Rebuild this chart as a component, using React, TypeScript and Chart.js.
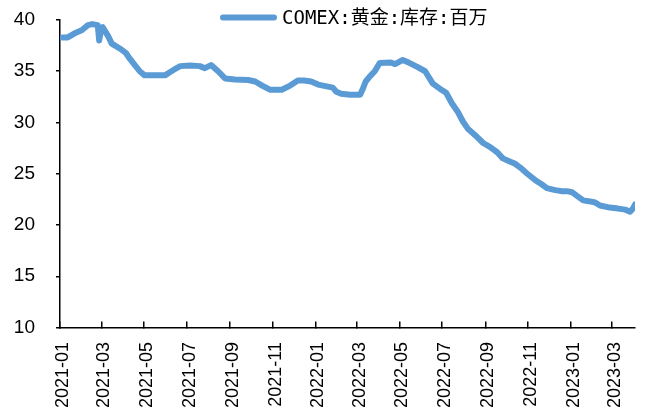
import React, { useEffect, useRef } from 'react';
import { Chart, registerables } from 'chart.js';

Chart.register(...registerables);

const seriesName = 'COMEX:黄金:库存:百万';

const dates = [
  '2021-01-04', '2021-01-12', '2021-01-22', '2021-02-01', '2021-02-10', '2021-02-16', '2021-02-24', '2021-02-26',
  '2021-03-01', '2021-03-03', '2021-03-11', '2021-03-16', '2021-03-28', '2021-04-05', '2021-04-11', '2021-04-18',
  '2021-04-25', '2021-05-02', '2021-05-17', '2021-05-31', '2021-06-07', '2021-06-14', '2021-06-22', '2021-07-06',
  '2021-07-20', '2021-07-27', '2021-08-05', '2021-08-15', '2021-08-25', '2021-09-08', '2021-09-27', '2021-10-07',
  '2021-10-17', '2021-10-28', '2021-11-14', '2021-11-26', '2021-12-07', '2021-12-16', '2021-12-26', '2022-01-05',
  '2022-01-19', '2022-01-26', '2022-01-31', '2022-02-07', '2022-02-20', '2022-03-06', '2022-03-10', '2022-03-14',
  '2022-03-20', '2022-03-27', '2022-04-03', '2022-04-19', '2022-04-25', '2022-05-06', '2022-05-16', '2022-05-26',
  '2022-06-07', '2022-06-18', '2022-06-28', '2022-07-07', '2022-07-15', '2022-07-24', '2022-07-31', '2022-08-07',
  '2022-08-20', '2022-08-29', '2022-09-08', '2022-09-18', '2022-09-26', '2022-10-06', '2022-10-13', '2022-10-21',
  '2022-10-31', '2022-11-11', '2022-11-20', '2022-11-28', '2022-12-10', '2022-12-20', '2022-12-27', '2023-01-03',
  '2023-01-11', '2023-01-19', '2023-01-29', '2023-02-05', '2023-02-12', '2023-02-26', '2023-03-10', '2023-03-20',
  '2023-03-27', '2023-03-31', '2023-04-03',
];

const inventory = [
  38.3, 38.3, 38.7, 39.0, 39.5, 39.6, 39.5, 38.0,
  39.2, 39.3, 38.4, 37.7, 37.2, 36.8, 36.2, 35.6,
  35.0, 34.6, 34.6, 34.6, 34.9, 35.2, 35.5, 35.55,
  35.5, 35.3, 35.6, 35.0, 34.3, 34.2, 34.15, 34.0,
  33.6, 33.2, 33.2, 33.6, 34.1, 34.1, 34.0, 33.7,
  33.5, 33.4, 33.0, 32.8, 32.7, 32.7, 33.3, 34.0,
  34.5, 35.0, 35.8, 35.85, 35.7, 36.1, 35.8, 35.45,
  35.0, 33.8, 33.3, 32.9, 31.9, 31.0, 30.1, 29.4,
  28.6, 28.0, 27.6, 27.1, 26.5, 26.2, 26.0, 25.6,
  25.0, 24.4, 24.0, 23.6, 23.4, 23.3, 23.3, 23.2,
  22.8, 22.4, 22.3, 22.2, 21.9, 21.7, 21.6, 21.5,
  21.3, 21.6, 22.0,
];

const tickLabels = [
  '2021-01', '2021-03', '2021-05', '2021-07', '2021-09', '2021-11',
  '2022-01', '2022-03', '2022-05', '2022-07', '2022-09', '2022-11',
  '2023-01', '2023-03',
];

const yTicks = [10, 15, 20, 25, 30, 35, 40];
const axisStart = '2021-01-01';
const axisEnd = '2023-04-03';

const lineColor = '#5B9BD5';

function dayIndex(s: string): number {
  const [y, m, d] = s.split('-').map(Number);
  const [y0, m0, d0] = axisStart.split('-').map(Number);
  return (Date.UTC(y, m - 1, d || 1) - Date.UTC(y0, m0 - 1, d0)) / 86400000;
}

function clearPadding(s: any) {
  s.paddingTop = 0;
  s.paddingBottom = 0;
  s.paddingLeft = 0;
  s.paddingRight = 0;
}

const legendPlugin = {
  id: 'customLegend',
  afterDraw(chart: any) {
    const ctx = chart.ctx;
    ctx.save();
    ctx.strokeStyle = lineColor;
    ctx.lineWidth = 6;
    ctx.lineCap = 'round';
    ctx.beginPath();
    ctx.moveTo(223, 17.5);
    ctx.lineTo(274, 17.5);
    ctx.stroke();
    ctx.font = '19px "DejaVu Sans Mono", "Noto Sans CJK SC"';
    ctx.fillStyle = '#000';
    ctx.textBaseline = 'middle';
    ctx.textAlign = 'left';
    ctx.fillText(seriesName, 282, 19);
    ctx.restore();
  },
};

export default function App() {
  const canvasRef = useRef<HTMLCanvasElement | null>(null);

  useEffect(() => {
    if (!canvasRef.current) return;
    const points = dates.map((d, i) => ({ x: dayIndex(d), y: inventory[i] }));
    const tickValues = tickLabels.map((t) => dayIndex(t + '-01'));
    const chart = new Chart(canvasRef.current, {
      type: 'line',
      data: {
        datasets: [
          {
            label: seriesName,
            data: points,
            borderColor: lineColor,
            backgroundColor: lineColor,
            borderWidth: 6,
            borderCapStyle: 'round',
            borderJoinStyle: 'round',
            pointRadius: 0,
            tension: 0,
            fill: false,
          },
        ],
      },
      options: {
        animation: false,
        responsive: false,
        layout: { padding: { top: 20, right: 11, left: 0, bottom: 0 } },
        plugins: {
          legend: { display: false },
          tooltip: { enabled: false },
        },
        scales: {
          x: {
            type: 'linear',
            min: 0,
            max: dayIndex(axisEnd),
            afterBuildTicks: (s: any) => {
              s.ticks = tickValues.map((v) => ({ value: v }));
            },
            afterFit: (s: any) => {
              s.height = 90.5;
              clearPadding(s);
            },
            ticks: {
              autoSkip: false,
              maxRotation: 90,
              minRotation: 90,
              padding: 20.5,
              labelOffset: 3,
              color: '#000',
              font: { family: 'Liberation Sans', size: 18 },
              callback: (_v: any, i: number) => tickLabels[i],
            },
            grid: {
              display: true,
              drawOnChartArea: false,
              drawTicks: true,
              tickLength: -6,
              color: '#000',
              lineWidth: 1.5,
            },
            border: { display: true, color: '#000', width: 1.5 },
          },
          y: {
            min: 10,
            max: 40,
            afterBuildTicks: (s: any) => {
              s.ticks = yTicks.map((v) => ({ value: v }));
            },
            afterFit: (s: any) => {
              s.width = 60;
              clearPadding(s);
            },
            ticks: {
              padding: 21,
              color: '#000',
              font: { family: 'Liberation Sans', size: 19 },
            },
            grid: {
              display: true,
              drawOnChartArea: false,
              drawTicks: true,
              tickLength: 4,
              color: '#000',
              lineWidth: 1.5,
            },
            border: { display: true, color: '#000', width: 1.5 },
          },
        },
      },
      plugins: [legendPlugin],
    } as any);
    return () => chart.destroy();
  }, []);

  return (
    <div style={{ position: 'fixed', left: 0, top: 0, width: 646, height: 418, background: '#fff' }}>
      <canvas ref={canvasRef} width={646} height={418} style={{ display: 'block' }} />
    </div>
  );
}
